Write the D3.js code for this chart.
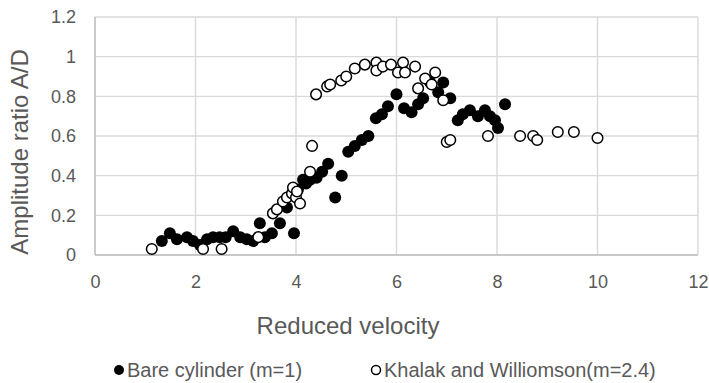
<!DOCTYPE html>
<html>
<head>
<meta charset="utf-8">
<script src="https://cdn.jsdelivr.net/npm/d3@7"></script>
<style>
  body { margin: 0; background: #fff; }
  text { font-family: "Liberation Sans", Arial, sans-serif; fill: #595959; }
</style>
</head>
<body>
<div id="datavis"></div>
<script>
// Bare cylinder (m=1)
const bareX = [1.33, 1.49, 1.63, 1.83, 1.95, 2.09, 2.23, 2.35, 2.48, 2.6, 2.75, 2.89, 3.02, 3.15,
  3.28, 3.38, 3.52, 3.68, 3.82, 3.96, 4.04, 4.14, 4.2, 4.28, 4.41, 4.52, 4.64, 4.78, 4.91,
  5.04, 5.17, 5.31, 5.44, 5.59, 5.71, 5.83, 6.0, 6.15, 6.3, 6.43, 6.53, 6.67, 6.83, 6.93,
  7.07, 7.22, 7.32, 7.46, 7.62, 7.76, 7.86, 7.96, 8.02, 8.16]
const bareY = [0.07, 0.11, 0.08, 0.09, 0.07, 0.05, 0.08, 0.09, 0.09, 0.09, 0.12, 0.09, 0.08, 0.07,
  0.16, 0.09, 0.11, 0.16, 0.24, 0.11, 0.33, 0.38, 0.36, 0.38, 0.39, 0.42, 0.46, 0.29, 0.40,
  0.52, 0.55, 0.58, 0.60, 0.69, 0.71, 0.75, 0.81, 0.74, 0.72, 0.76, 0.79, 0.87, 0.82, 0.87,
  0.79, 0.68, 0.71, 0.73, 0.70, 0.73, 0.70, 0.68, 0.64, 0.76]

// Khalak and Williamson (m=2.4)
const khalakX = [1.13, 2.15, 2.52, 3.25, 3.54, 3.62, 3.74, 3.82, 3.92, 3.94, 4.0, 4.02, 4.08,
  4.28, 4.32, 4.4, 4.62, 4.68, 4.9, 5.0, 5.17, 5.37, 5.6, 5.6, 5.73, 5.89, 6.03, 6.13, 6.17,
  6.37, 6.43, 6.57, 6.7, 6.77, 6.93, 7.0, 7.07, 7.82, 8.46, 8.72, 8.8, 9.21, 9.53, 10.0]
const khalakY = [0.03, 0.03, 0.03, 0.09, 0.21, 0.23, 0.27, 0.29, 0.31, 0.34, 0.29, 0.32, 0.26,
  0.42, 0.55, 0.81, 0.85, 0.86, 0.88, 0.90, 0.94, 0.96, 0.97, 0.93, 0.95, 0.96, 0.92, 0.97, 0.92,
  0.95, 0.84, 0.89, 0.86, 0.92, 0.78, 0.57, 0.58, 0.60, 0.60, 0.60, 0.58, 0.62, 0.62, 0.59]

const xTicks = [0, 2, 4, 6, 8, 10, 12]
const yTicks = [0, 0.2, 0.4, 0.6, 0.8, 1, 1.2]
const seriesNames = ["Bare cylinder (m=1)", "Khalak and Williomson(m=2.4)"]

const W = 709, H = 383
const margin = {top: 17, right: 11, bottom: 128, left: 95}
const width = W - margin.left - margin.right,
    height = H - margin.top - margin.bottom

const svg = d3.select("#datavis")
  .append("svg")
    .attr("width", W)
    .attr("height", H)

const g = svg.append("g")
    .attr("transform", "translate(" + margin.left + "," + margin.top + ")")

const x = d3.scaleLinear().domain([0, 12]).range([0, width])
const y = d3.scaleLinear().domain([0, 1.2]).range([height, 0])

// gridlines
g.append("g")
  .selectAll("line.v")
  .data(xTicks)
  .enter().append("line")
    .attr("x1", d => x(d)).attr("x2", d => x(d))
    .attr("y1", 0).attr("y2", height)
    .attr("stroke", "#d9d9d9").attr("stroke-width", 1.4)

g.append("g")
  .selectAll("line.h")
  .data(yTicks)
  .enter().append("line")
    .attr("x1", 0).attr("x2", width)
    .attr("y1", d => y(d)).attr("y2", d => y(d))
    .attr("stroke", "#d9d9d9").attr("stroke-width", 1.4)

// axis lines
g.append("line").attr("x1", 0).attr("x2", 0).attr("y1", 0).attr("y2", height)
  .attr("stroke", "#bfbfbf").attr("stroke-width", 1.4)
g.append("line").attr("x1", 0).attr("x2", width).attr("y1", height).attr("y2", height)
  .attr("stroke", "#bfbfbf").attr("stroke-width", 1.4)

// tick labels
const xAxis = g.append("g")
  .attr("transform", "translate(0," + height + ")")
  .call(d3.axisBottom(x).tickValues(xTicks).tickSize(0).tickPadding(20).tickFormat(d3.format("d")))
xAxis.select(".domain").remove()
xAxis.selectAll("text").style("font-size", "18px").attr("fill", "#595959")

const yAxis = g.append("g")
  .call(d3.axisLeft(y).tickValues(yTicks).tickSize(0).tickPadding(19).tickFormat(d => d3.format("")(+d.toFixed(1))))
yAxis.select(".domain").remove()
yAxis.selectAll("text").style("font-size", "18px").attr("fill", "#595959")

// axis titles
svg.append("text")
  .attr("x", 348).attr("y", 334)
  .attr("text-anchor", "middle")
  .style("font-size", "24px")
  .text("Reduced velocity")

svg.append("text")
  .attr("transform", "translate(28,152) rotate(-90)")
  .attr("text-anchor", "middle")
  .style("font-size", "24px")
  .text("Amplitude ratio A/D")

// points
const bare = bareX.map((v, i) => ({x: v, y: bareY[i]}))
const khalak = khalakX.map((v, i) => ({x: v, y: khalakY[i]}))

g.append("g")
  .selectAll("circle")
  .data(bare)
  .enter().append("circle")
    .attr("cx", d => x(d.x))
    .attr("cy", d => y(d.y))
    .attr("r", 6)
    .attr("fill", "#000")

g.append("g")
  .selectAll("circle")
  .data(khalak)
  .enter().append("circle")
    .attr("cx", d => x(d.x))
    .attr("cy", d => y(d.y))
    .attr("r", 5.3)
    .attr("fill", "#fff")
    .attr("stroke", "#000")
    .attr("stroke-width", 1.5)

// legend
const legend = svg.append("g")
legend.append("circle").attr("cx", 119).attr("cy", 370).attr("r", 5).attr("fill", "#000")
legend.append("text").attr("x", 127).attr("y", 377).style("font-size", "20px").text(seriesNames[0])
legend.append("circle").attr("cx", 376).attr("cy", 370).attr("r", 4.5)
  .attr("fill", "#fff").attr("stroke", "#000").attr("stroke-width", 1.5)
legend.append("text").attr("x", 384).attr("y", 377).style("font-size", "20px").text(seriesNames[1])
</script>
</body>
</html>
